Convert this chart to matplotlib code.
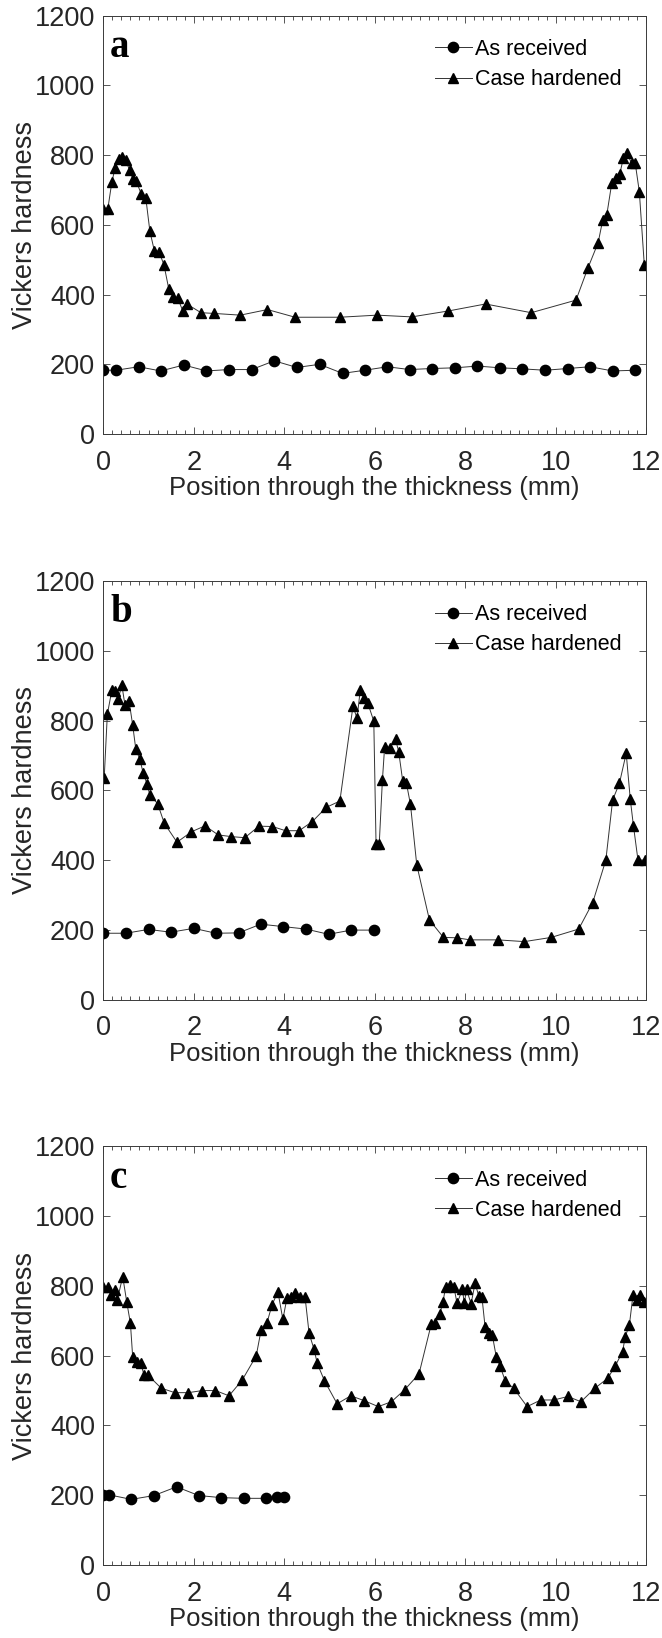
import matplotlib.pyplot as plt
from matplotlib.ticker import MultipleLocator

plt.rcParams['font.family'] = ['Liberation Sans', 'DejaVu Sans']

# ---- panel a ----
a_recv_x = [0.00, 0.28, 0.78, 1.27, 1.78, 2.28, 2.78, 3.28, 3.78, 4.28, 4.78, 5.29, 5.78,
            6.28, 6.77, 7.27, 7.78, 8.27, 8.77, 9.26, 9.77, 10.27, 10.76, 11.26, 11.76]
a_recv_y = [183, 183, 193, 181, 198, 181, 185, 185, 210, 191, 200, 174, 183,
            193, 185, 188, 190, 195, 190, 187, 183, 188, 193, 181, 183]
a_case_x = [0.00, 0.10, 0.19, 0.26, 0.34, 0.42, 0.50, 0.58, 0.66, 0.73, 0.84, 0.94, 1.03,
            1.13, 1.23, 1.34, 1.45, 1.55, 1.65, 1.76, 1.86, 2.16, 2.44, 3.03, 3.63, 4.24,
            5.23, 6.05, 6.82, 7.63, 8.45, 9.46, 10.45, 10.71, 10.94, 11.04, 11.13, 11.24,
            11.33, 11.42, 11.50, 11.58, 11.68, 11.76, 11.85, 11.96]
a_case_y = [645, 645, 723, 762, 790, 795, 785, 757, 730, 725, 688, 677, 582,
            525, 523, 486, 415, 394, 389, 352, 372, 348, 346, 341, 357, 335,
            335, 341, 336, 353, 373, 348, 384, 475, 549, 613, 628, 719,
            733, 747, 793, 805, 776, 776, 695, 485]

# ---- panel b ----
b_recv_x = [0.00, 0.50, 1.00, 1.49, 2.00, 2.49, 2.99, 3.48, 3.98, 4.48, 4.98, 5.48, 5.98]
b_recv_y = [190, 190, 201, 193, 204, 190, 191, 216, 209, 202, 187, 199, 199]
b_case_x = [0.02, 0.09, 0.19, 0.26, 0.33, 0.41, 0.48, 0.57, 0.65, 0.72, 0.81, 0.88, 0.97,
            1.03, 1.20, 1.35, 1.63, 1.95, 2.25, 2.54, 2.83, 3.13, 3.44, 3.74, 4.03, 4.33,
            4.62, 4.93, 5.23, 5.52, 5.61, 5.68, 5.76, 5.85, 5.98, 6.03, 6.10, 6.17, 6.22,
            6.33, 6.46, 6.53, 6.62, 6.70, 6.79, 6.93, 7.21, 7.52, 7.81, 8.11, 8.72, 9.31,
            9.90, 10.51, 10.82, 11.11, 11.26, 11.41, 11.56, 11.65, 11.72, 11.82, 11.97]
b_case_y = [634, 818, 887, 885, 861, 902, 844, 856, 787, 717, 689, 650, 617,
            586, 562, 505, 451, 481, 498, 472, 467, 464, 497, 496, 484, 484,
            510, 551, 569, 841, 806, 887, 864, 849, 798, 445, 445, 628, 725,
            720, 746, 711, 626, 621, 560, 386, 228, 178, 177, 171, 171, 166,
            178, 202, 278, 400, 572, 620, 706, 574, 498, 400, 400]

# ---- panel c ----
c_recv_x = [0.00, 0.13, 0.62, 1.12, 1.62, 2.11, 2.61, 3.10, 3.60, 3.84, 3.99]
c_recv_y = [201, 201, 188, 199, 224, 199, 193, 191, 191, 196, 196]
c_case_x = [0.00, 0.11, 0.18, 0.26, 0.31, 0.43, 0.52, 0.60, 0.65, 0.74, 0.83, 0.90, 0.99,
            1.28, 1.58, 1.88, 2.19, 2.48, 2.78, 3.07, 3.38, 3.49, 3.62, 3.73, 3.86, 3.97,
            4.06, 4.15, 4.24, 4.35, 4.46, 4.55, 4.66, 4.73, 4.89, 5.17, 5.47, 5.77, 6.08,
            6.37, 6.66, 6.98, 7.25, 7.33, 7.44, 7.51, 7.57, 7.67, 7.75, 7.82, 7.94, 7.98,
            8.03, 8.13, 8.22, 8.30, 8.37, 8.44, 8.53, 8.60, 8.69, 8.77, 8.89, 9.07, 9.37,
            9.67, 9.96, 10.27, 10.56, 10.87, 11.15, 11.32, 11.48, 11.54, 11.63, 11.71,
            11.80, 11.87, 11.96]
c_case_y = [798, 798, 774, 788, 760, 827, 753, 693, 597, 583, 578, 545, 544,
            507, 494, 494, 500, 500, 485, 530, 599, 674, 695, 745, 784, 704,
            765, 769, 779, 769, 769, 664, 618, 578, 528, 462, 485, 471, 454,
            468, 502, 548, 690, 693, 720, 755, 798, 803, 798, 750, 790, 750,
            790, 749, 808, 771, 769, 683, 664, 659, 595, 571, 526, 507, 454,
            473, 473, 483, 468, 507, 535, 571, 612, 655, 688, 774,
            760, 774, 755]

panels = [("a", a_recv_x, a_recv_y, a_case_x, a_case_y),
          ("b", b_recv_x, b_recv_y, b_case_x, b_case_y),
          ("c", c_recv_x, c_recv_y, c_case_x, c_case_y)]
bottoms = [0.7350, 0.3898, 0.0446]

AX_COL = "#3a3a3a"
TXT_COL = "#262626"

fig = plt.figure(figsize=(6.62, 16.38), dpi=100)
for (tag, rx, ry, cx, cy), b in zip(panels, bottoms):
    ax = fig.add_axes([0.156, b, 0.820, 0.2555])
    ax.plot(rx, ry, "-o", color="#333333", lw=0.7, ms=7.4, mfc="k", mec="k",
            label="As received")
    ax.plot(cx, cy, "-^", color="#333333", lw=0.7, ms=7.4, mfc="k", mec="k",
            label="Case hardened")

    ax.set_xlim(0, 12)
    ax.set_ylim(0, 1200)
    ax.xaxis.set_major_locator(MultipleLocator(2))
    ax.xaxis.set_minor_locator(MultipleLocator(0.2))
    ax.yaxis.set_major_locator(MultipleLocator(200))

    ax.tick_params(which="both", direction="in", top=True, right=True,
                   color=AX_COL, width=0.6, labelcolor=TXT_COL, labelsize=19.5)
    ax.tick_params(which="major", length=5)
    ax.tick_params(axis="x", which="major", pad=11.5)
    ax.tick_params(axis="y", which="major", pad=6)
    ax.tick_params(which="minor", length=3)
    for sp in ax.spines.values():
        sp.set_color(AX_COL)
        sp.set_linewidth(0.7)

    ax.set_xlabel("Position through the thickness (mm)", fontsize=18.5,
                  color=TXT_COL)
    ax.set_ylabel("Vickers hardness", fontsize=19.5, color=TXT_COL)
    ax.xaxis.set_label_coords(0.5, -0.101)
    ax.yaxis.set_label_coords(-0.120, 0.5)

    ax.text(0.15, 1082, tag, fontsize=28, fontweight="bold",
            family=["Liberation Serif", "DejaVu Serif"], va="baseline")

    ax.legend(loc="upper left", bbox_to_anchor=(0.611, 0.944), frameon=False,
              fontsize=15.5, handlelength=1.72, handletextpad=0.15,
              labelspacing=0.42, borderpad=0, borderaxespad=0)

fig.savefig("out.png", dpi=100)
